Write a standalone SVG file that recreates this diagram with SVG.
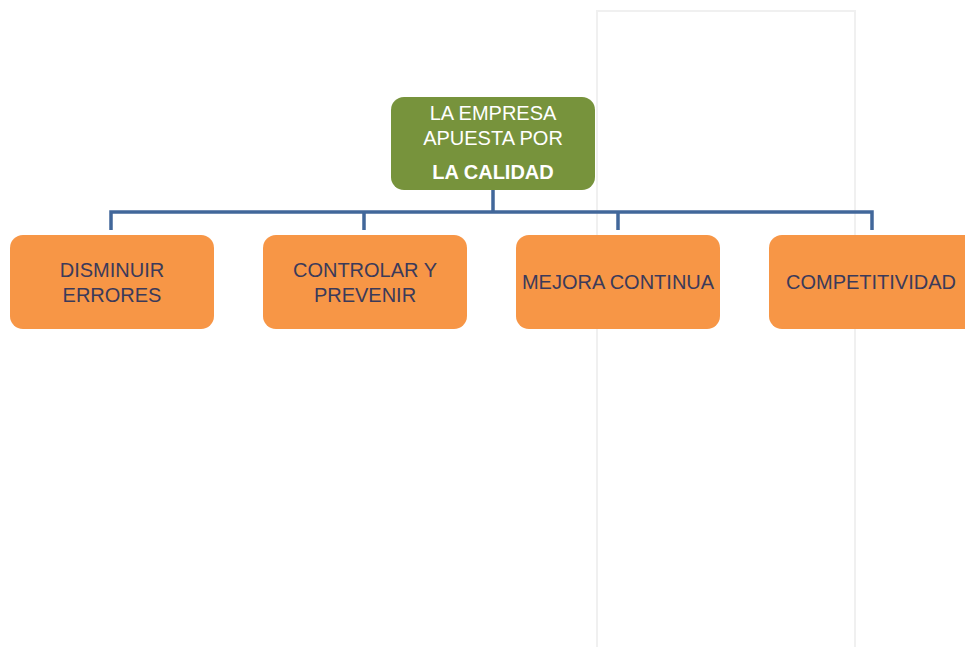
<svg xmlns="http://www.w3.org/2000/svg" width="965" height="647" viewBox="0 0 965 647">
<style>
.bg{fill:#ffffff}
.frame{fill:none;stroke:#f0f0f0;stroke-width:2}
.root{fill:#77933c}
.child{fill:#f79646}
.conn{fill:none;stroke:#41679a;stroke-width:3.5}
.t{font-family:"Liberation Sans",Arial,sans-serif;font-size:20px;text-anchor:middle}
.tw{fill:#ffffff}
.td{fill:#3b3a5a}
</style>
<rect class="bg" x="0" y="0" width="965" height="647"/>
<rect class="frame" x="597" y="11" width="258" height="650"/>
<g id="connectors">
<path class="conn" d="M493 190 V212 M111 230 V212 H872 V230 M364 212 V230 M618 212 V230"/>
</g>
<g id="root">
<rect class="root" x="391" y="97" width="204" height="93" rx="13"/>
<text class="t tw" x="493" y="120">LA EMPRESA</text>
<text class="t tw" x="493" y="145">APUESTA POR</text>
<text class="t tw" x="493" y="179" font-weight="bold" font-size="19">LA CALIDAD</text>
</g>
<g id="n1">
<rect class="child" x="10" y="235" width="204" height="94" rx="13"/>
<text class="t td" x="112" y="277">DISMINUIR</text>
<text class="t td" x="112" y="302">ERRORES</text>
</g>
<g id="n2">
<rect class="child" x="263" y="235" width="204" height="94" rx="13"/>
<text class="t td" x="365" y="277">CONTROLAR Y</text>
<text class="t td" x="365" y="302">PREVENIR</text>
</g>
<g id="n3">
<rect class="child" x="516" y="235" width="204" height="94" rx="13"/>
<text class="t td" x="618" y="289">MEJORA CONTINUA</text>
</g>
<g id="n4">
<rect class="child" x="769" y="235" width="210" height="94" rx="13"/>
<text class="t td" x="871" y="289">COMPETITIVIDAD</text>
</g>
</svg>
